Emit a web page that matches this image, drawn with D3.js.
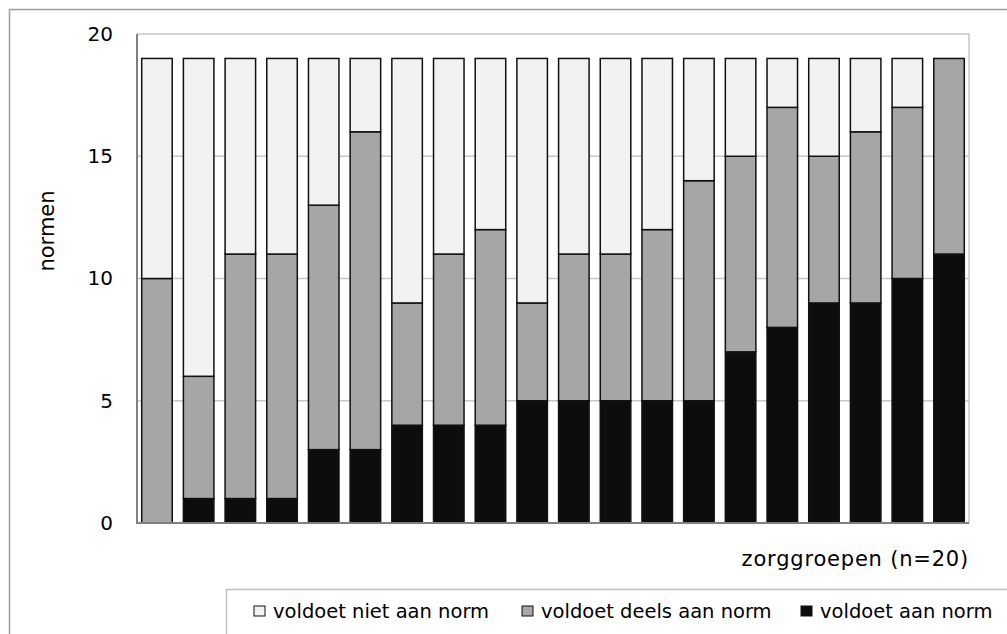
<!DOCTYPE html>
<html>
<head>
<meta charset="utf-8">
<script src="https://cdn.jsdelivr.net/npm/d3@7"></script>
<style>
  body { margin: 0; background: #fff; }
  svg { display: block; font-family: 'DejaVu Sans', Verdana, sans-serif; }
</style>
</head>
<body>
<svg width="1007" height="634"></svg>
<script>
const groups = d3.range(1, 21).map(String);
const voldoet = [0, 1, 1, 1, 3, 3, 4, 4, 4, 5, 5, 5, 5, 5, 7, 8, 9, 9, 10, 11];
const deels = [10, 5, 10, 10, 10, 13, 5, 7, 8, 4, 6, 6, 7, 9, 8, 9, 6, 7, 7, 8];
const niet = [9, 13, 8, 8, 6, 3, 10, 8, 7, 10, 8, 8, 7, 5, 4, 2, 4, 3, 2, 0];
const yTicks = [0, 5, 10, 15, 20];
const seriesNames = ['voldoet aan norm', 'voldoet deels aan norm', 'voldoet niet aan norm'];
const colors = ['#0d0d0d', '#a6a6a6', '#f2f2f2'];

const svg = d3.select('svg');

const plotLeft = 137, plotRight = 969, plotTop = 34, plotBottom = 523;

// outer chart frame (runs off the window right and bottom)
svg.append('rect')
    .attr('x', 9.5).attr('y', 9.5)
    .attr('width', 1020).attr('height', 650)
    .attr('fill', 'none')
    .attr('stroke', '#a0a0a0')
    .attr('stroke-width', 1.5);

const x = d3.scaleBand()
    .domain(groups)
    .range([plotLeft, plotRight])
    .paddingInner(0.268)
    .paddingOuter(0.113);

const y = d3.scaleLinear()
    .domain([0, 20])
    .range([plotBottom, plotTop]);

// gridlines
svg.append('g')
    .selectAll('line')
    .data(yTicks.filter(d => d > 0 && d < 20))
    .join('line')
    .attr('x1', plotLeft).attr('x2', plotRight)
    .attr('y1', d => y(d)).attr('y2', d => y(d))
    .attr('stroke', '#c8c8c8')
    .attr('stroke-width', 1.5);

// plot area top / right border
svg.append('path')
    .attr('d', `M${plotLeft},${y(20)}H${plotRight}V${plotBottom}`)
    .attr('fill', 'none')
    .attr('stroke', '#c8c8c8')
    .attr('stroke-width', 1.5);

// stacked bars
const table = groups.map((g, i) => ({
    group: g,
    [seriesNames[0]]: voldoet[i],
    [seriesNames[1]]: deels[i],
    [seriesNames[2]]: niet[i]
}));
const stacked = d3.stack().keys(seriesNames)(table);

svg.append('g')
    .selectAll('g')
    .data(stacked)
    .join('g')
    .attr('fill', (d, i) => colors[i])
    .selectAll('rect')
    .data(d => d.filter(p => p[1] > p[0]))
    .join('rect')
    .attr('x', d => x(d.data.group))
    .attr('width', x.bandwidth())
    .attr('y', d => y(d[1]))
    .attr('height', d => y(d[0]) - y(d[1]))
    .attr('stroke', '#111')
    .attr('stroke-width', 1.5);

// axis lines
svg.append('path')
    .attr('d', `M${plotLeft},${plotTop}V${plotBottom}H${plotRight}`)
    .attr('fill', 'none')
    .attr('stroke', '#808080')
    .attr('stroke-width', 2);

// y axis labels
const yAxis = d3.axisLeft(y).tickValues(yTicks).tickSize(0).tickPadding(24);
svg.append('g')
    .attr('transform', `translate(${plotLeft},0)`)
    .call(yAxis)
    .call(g => g.select('.domain').remove())
    .call(g => g.selectAll('text')
        .attr('font-family', "'DejaVu Sans', Verdana, sans-serif")
        .attr('font-size', 20)
        .attr('fill', '#000'));

svg.append('text')
    .attr('transform', 'translate(54,231) rotate(-90)')
    .attr('text-anchor', 'middle')
    .attr('font-size', 21)
    .text('normen');

svg.append('text')
    .attr('x', plotRight)
    .attr('y', 566)
    .attr('text-anchor', 'end')
    .attr('font-size', 21)
    .attr('letter-spacing', 0.8)
    .text('zorggroepen (n=20)');

// legend
svg.append('rect')
    .attr('x', 226.5).attr('y', 589.5)
    .attr('width', 800).attr('height', 80)
    .attr('fill', '#fff')
    .attr('stroke', '#c0c0c0')
    .attr('stroke-width', 1.5);

const legendItems = [
    { name: seriesNames[2], color: colors[2], x: 254 },
    { name: seriesNames[1], color: colors[1], x: 522 },
    { name: seriesNames[0], color: colors[0], x: 801 }
];
const legend = svg.append('g')
    .selectAll('g')
    .data(legendItems)
    .join('g')
    .attr('transform', d => `translate(${d.x},611)`);
legend.append('rect')
    .attr('x', 0).attr('y', -5)
    .attr('width', 11).attr('height', 10)
    .attr('fill', d => d.color)
    .attr('stroke', '#111')
    .attr('stroke-width', 1);
legend.append('text')
    .attr('x', 19)
    .attr('y', 7)
    .attr('font-size', 19.5)
    .text(d => d.name);
</script>
</body>
</html>
